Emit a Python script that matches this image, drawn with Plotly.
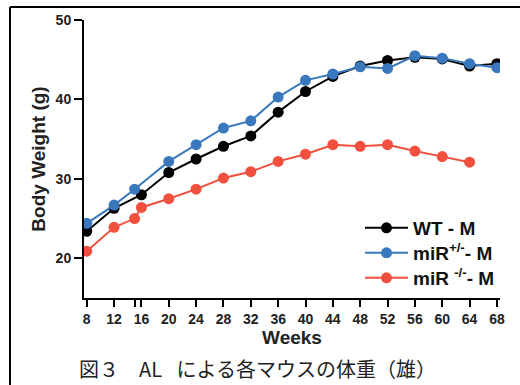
import plotly.graph_objects as go

wt_weeks = [8, 12, 16, 20, 24, 28, 32, 36, 40, 44, 48, 52, 56, 60, 64, 68]
wt_vals = [23.4, 26.3, 28.0, 30.8, 32.5, 34.1, 35.4, 38.4, 41.0, 42.9, 44.2, 44.9, 45.3, 45.1, 44.2, 44.5]

het_weeks = [8, 12, 15, 20, 24, 28, 32, 36, 40, 44, 48, 52, 56, 60, 64, 68]
het_vals = [24.4, 26.7, 28.7, 32.2, 34.3, 36.4, 37.3, 40.3, 42.4, 43.2, 44.1, 43.9, 45.5, 45.2, 44.5, 44.0]

ko_weeks = [8, 12, 15, 16, 20, 24, 28, 32, 36, 40, 44, 48, 52, 56, 60, 64]
ko_vals = [20.9, 23.9, 25.0, 26.4, 27.5, 28.7, 30.1, 30.9, 32.2, 33.1, 34.3, 34.1, 34.3, 33.5, 32.8, 32.1]

x_ticks = [8, 12, 15, 16, 20, 24, 28, 32, 36, 40, 44, 48, 52, 56, 60, 64, 68]
x_ticktext = ["8", "12", "", "16", "20", "24", "28", "32", "36", "40", "44", "48", "52", "56", "60", "64", "68"]
y_ticks = [20, 30, 40, 50]

series = [
    ("WT - M", wt_weeks, wt_vals, "#000000"),
    ("miR<sup>+/-</sup>- M", het_weeks, het_vals, "#3A78BE"),
    ("miR <sup>-/-</sup>- M", ko_weeks, ko_vals, "#F2503F"),
]

FONT = "Liberation Sans"

L, R, T, B = 84, 20, 20, 87
W, H = 520, 385
pw, ph = W - L - R, H - T - B

def px_x(p):
    return (p - L) / pw

def px_y(p):
    return (H - B - p) / ph

legend_rows = [228, 253, 278]
legend_names = ["legend", "legend2", "legend3"]

fig = go.Figure()
for (name, xs, ys, col), lg in zip(series, legend_names):
    fig.add_trace(go.Scatter(
        x=xs, y=ys, name=name, mode="lines+markers",
        line=dict(color=col, width=2),
        marker=dict(color=col, size=11),
        legend=lg,
    ))

legend_common = dict(
    xanchor="left", yanchor="middle",
    font=dict(size=19, family=FONT, color="#111111", weight="bold"),
    bgcolor="rgba(0,0,0,0)", itemwidth=43,
)

layout_legends = {}
for lg, row in zip(legend_names, legend_rows):
    layout_legends[lg] = dict(x=px_x(360), y=px_y(row), **legend_common)

fig.update_layout(
    width=W, height=H,
    margin=dict(l=L, r=R, t=T, b=B),
    plot_bgcolor="white", paper_bgcolor="white",
    font=dict(family=FONT, color="#111111"),
    showlegend=True,
    xaxis=dict(
        range=[7.6, 68.45], tickvals=x_ticks, ticktext=x_ticktext,
        showgrid=False, zeroline=False, showline=True, linecolor="black", linewidth=2,
        ticks="outside", ticklen=7, tickwidth=2, tickcolor="black",
        tickfont=dict(size=14, family=FONT, weight="bold", color="#222222"),
        title=dict(text="Weeks", font=dict(size=19, family=FONT, weight="bold", color="#222222"), standoff=5),
    ),
    yaxis=dict(
        range=[15, 50], tickvals=y_ticks,
        showgrid=False, zeroline=False, showline=True, linecolor="black", linewidth=2,
        ticks="outside", ticklen=8, tickwidth=2, tickcolor="black",
        tickfont=dict(size=14, family=FONT, weight="bold", color="#222222"),
        title=dict(text="Body Weight (g)", font=dict(size=19, family=FONT, weight="bold", color="#222222"), standoff=5),
    ),
    shapes=[
        dict(type="line", xref="paper", yref="paper", x0=px_x(10), x1=px_x(530), y0=px_y(7), y1=px_y(7),
             line=dict(color="black", width=2)),
        dict(type="line", xref="paper", yref="paper", x0=px_x(10), x1=px_x(10), y0=px_y(7), y1=px_y(400),
             line=dict(color="black", width=2)),
    ],
    annotations=[
        dict(text="図３　AL \u2002による各マウスの体重（雄）", xref="paper", yref="paper",
             x=px_x(77), y=px_y(368), xanchor="left", yanchor="middle", showarrow=False,
             font=dict(size=20, family="Noto Sans CJK JP", color="#222222")),
    ],
    **layout_legends,
)

fig.write_html("out.html")
